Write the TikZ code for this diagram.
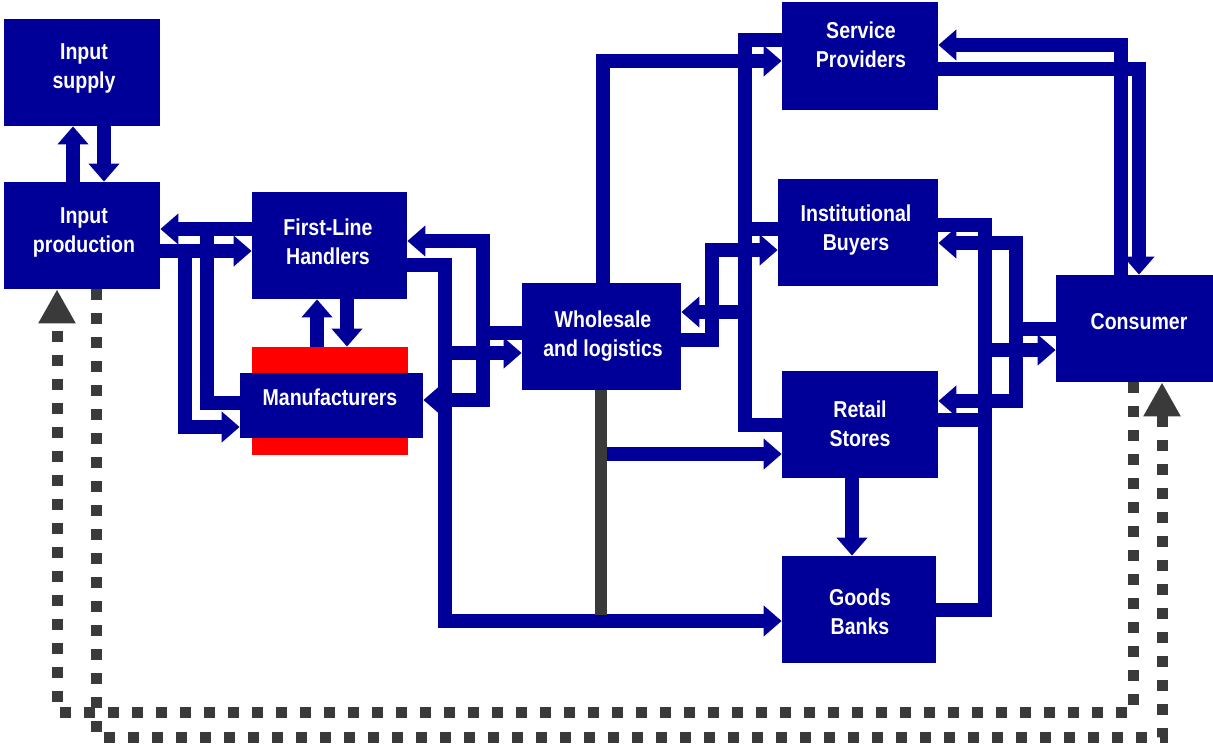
\documentclass[tikz,border=0pt]{standalone}
\usepackage{fontspec}
\setmainfont{Liberation Sans}[FakeStretch=0.85]
\usetikzlibrary{arrows.meta}
\definecolor{chainblue}{RGB}{0,0,153}
\definecolor{chainred}{RGB}{255,0,0}
\definecolor{chaingray}{RGB}{58,58,58}

\begin{document}
\begin{tikzpicture}[x=0.5pt,y=-0.5pt,
    unit/.style={fill=chainblue, inner sep=0pt, minimum width=78pt, minimum height=53.5pt},
    tag/.style={text=white, font=\fontsize{11.5}{14.5}\selectfont\bfseries, align=center, inner sep=0pt},
    link/.style={draw=chainblue, line width=7pt},
    flow/.style={link, -{Triangle[length=9pt,width=15pt]}},
    stem/.style={draw=chaingray, line width=6pt},
    feedback/.style={draw=chaingray, line width=5.5pt, dash pattern=on 5.5pt off 6.5pt,
        -{Triangle[length=17pt,width=17.5pt]}}]

    \useasboundingbox (0,0) rectangle (1213,744);

    %cajas
    \node[unit] (supply) at (82,72.5) {};
    \node[unit] (prod) at (82,235.5) {};
    \node[unit, minimum width=77.5pt] (flh) at (329.5,245.5) {};
    \node[unit, fill=chainred, minimum height=54pt] (backdrop) at (330,401) {};
    \node[unit, minimum width=91.5pt, minimum height=32.5pt] (manuf) at (331.5,405.5) {};
    \node[unit, minimum width=79.5pt] (whole) at (601.5,336.5) {};
    \node[unit, minimum height=54pt] (serv) at (860,56) {};
    \node[unit, minimum width=80pt] (inst) at (858,232.5) {};
    \node[unit] (retail) at (860,424.5) {};
    \node[unit, minimum width=77pt] (goods) at (859,609.5) {};
    \node[unit, minimum width=78.5pt] (cons) at (1134.5,328.5) {};

    %textos
    \node[tag] (supply-t) at (84,68) {Input\\supply};
    \node[tag] (prod-t) at (84,232) {Input\\production};
    \node[tag] (flh-t) at (328,242) {First-Line\\Handlers};
    \node[tag] (manuf-t) at (330,397) {Manufacturers};
    \node[tag] (whole-t) at (603,336) {Wholesale\\and logistics};
    \node[tag] (serv-t) at (861,45) {Service\\Providers};
    \node[tag] (inst-t) at (856,230) {Institutional\\Buyers};
    \node[tag] (retail-t) at (860,424) {Retail\\Stores};
    \node[tag] (goods-t) at (860,612) {Goods\\Banks};
    \node[tag] (cons-t) at (1139,322) {Consumer};

    %insumos
    \draw[flow] (prod.north -| 73,0) -- (supply.south -| 73,0);
    \draw[flow] (supply.south -| 104,0) -- (prod.north -| 104,0);

    %produccion y primeros manipuladores
    \coordinate (backjoin) at (207,229);
    \coordinate (outsplit) at (185,251);
    \draw[flow] (flh.west |- 0,229) -- (prod.east |- 0,229);
    \draw[flow] (prod.east |- 0,251) -- (flh.west |- 0,251);
    \draw[link] (manuf.west |- 0,403) -| (backjoin);
    \draw[flow] (outsplit) |- (manuf.west |- 0,427);

    \draw[flow] (backdrop.north -| 317,0) -- (flh.south -| 317,0);
    \draw[flow] (flh.south -| 347,0) -- (backdrop.north -| 347,0);

    %mayorista hacia atras
    \coordinate (wfork) at (483,333);
    \draw[link] (whole.west |- wfork) -- (wfork);
    \draw[flow] (wfork) |- (flh.east |- 0,241);
    \draw[flow] (wfork) |- (manuf.east |- 0,400);

    %manipuladores hacia mayorista y bancos
    \coordinate (hfork) at (445,353);
    \draw[link] (flh.east |- 0,265) -| (hfork);
    \draw[flow] (hfork) -- (whole.west |- hfork);
    \draw[flow] (hfork) |- (goods.west |- 0,621);

    %barra gris
    \coordinate (stemfoot) at (601,615);
    \coordinate (stemtap) at (607,454);
    \draw[stem] (whole.south -| stemfoot) -- (stemfoot);
    \draw[flow] (stemtap) -- (retail.west |- stemtap);

    %mayorista hacia servicios e institucionales
    \draw[flow] (whole.north -| 603,0) |- (serv.west |- 0,61);
    \draw[flow] (whole.east |- 0,340) -| (712,250) -- (inst.west |- 0,250);

    %colector hacia mayorista
    \coordinate (sfork) at (745,312);
    \draw[link] (serv.west |- 0,40) -| (745,425) -- (retail.west |- 0,425);
    \draw[link] (inst.west |- 0,229) -- (745,229);
    \draw[flow] (sfork) -- (whole.east |- sfork);

    %consumidor y servicios
    \draw[flow] (cons.north -| 1121,0) |- (serv.east |- 0,45);
    \draw[flow] (serv.east |- 0,69) -| (cons.north -| 1139,0);

    %consumidor hacia institucionales y minoristas
    \coordinate (cfork) at (1016,329);
    \draw[link] (cons.west |- cfork) -- (cfork);
    \draw[flow] (cfork) |- (inst.east |- 0,243);
    \draw[flow] (cfork) |- (retail.east |- 0,401);

    %hacia el consumidor
    \coordinate (kfork) at (985,350);
    \draw[link] (inst.east |- 0,225) -| (985,610) -- (goods.east |- 0,610);
    \draw[link] (retail.east |- 0,420) -- (985,420);
    \draw[flow] (kfork) -- (cons.west |- kfork);

    \draw[flow] (retail.south -| 852,0) -- (goods.north -| 852,0);

    %retroalimentacion
    \draw[feedback] (cons.south -| 1133,0) |- (57,712) -- (prod.south -| 57,0);
    \draw[feedback] (prod.south -| 96,0) |- (1162,737) -- (cons.south -| 1162,0);

\end{tikzpicture}
\end{document}
